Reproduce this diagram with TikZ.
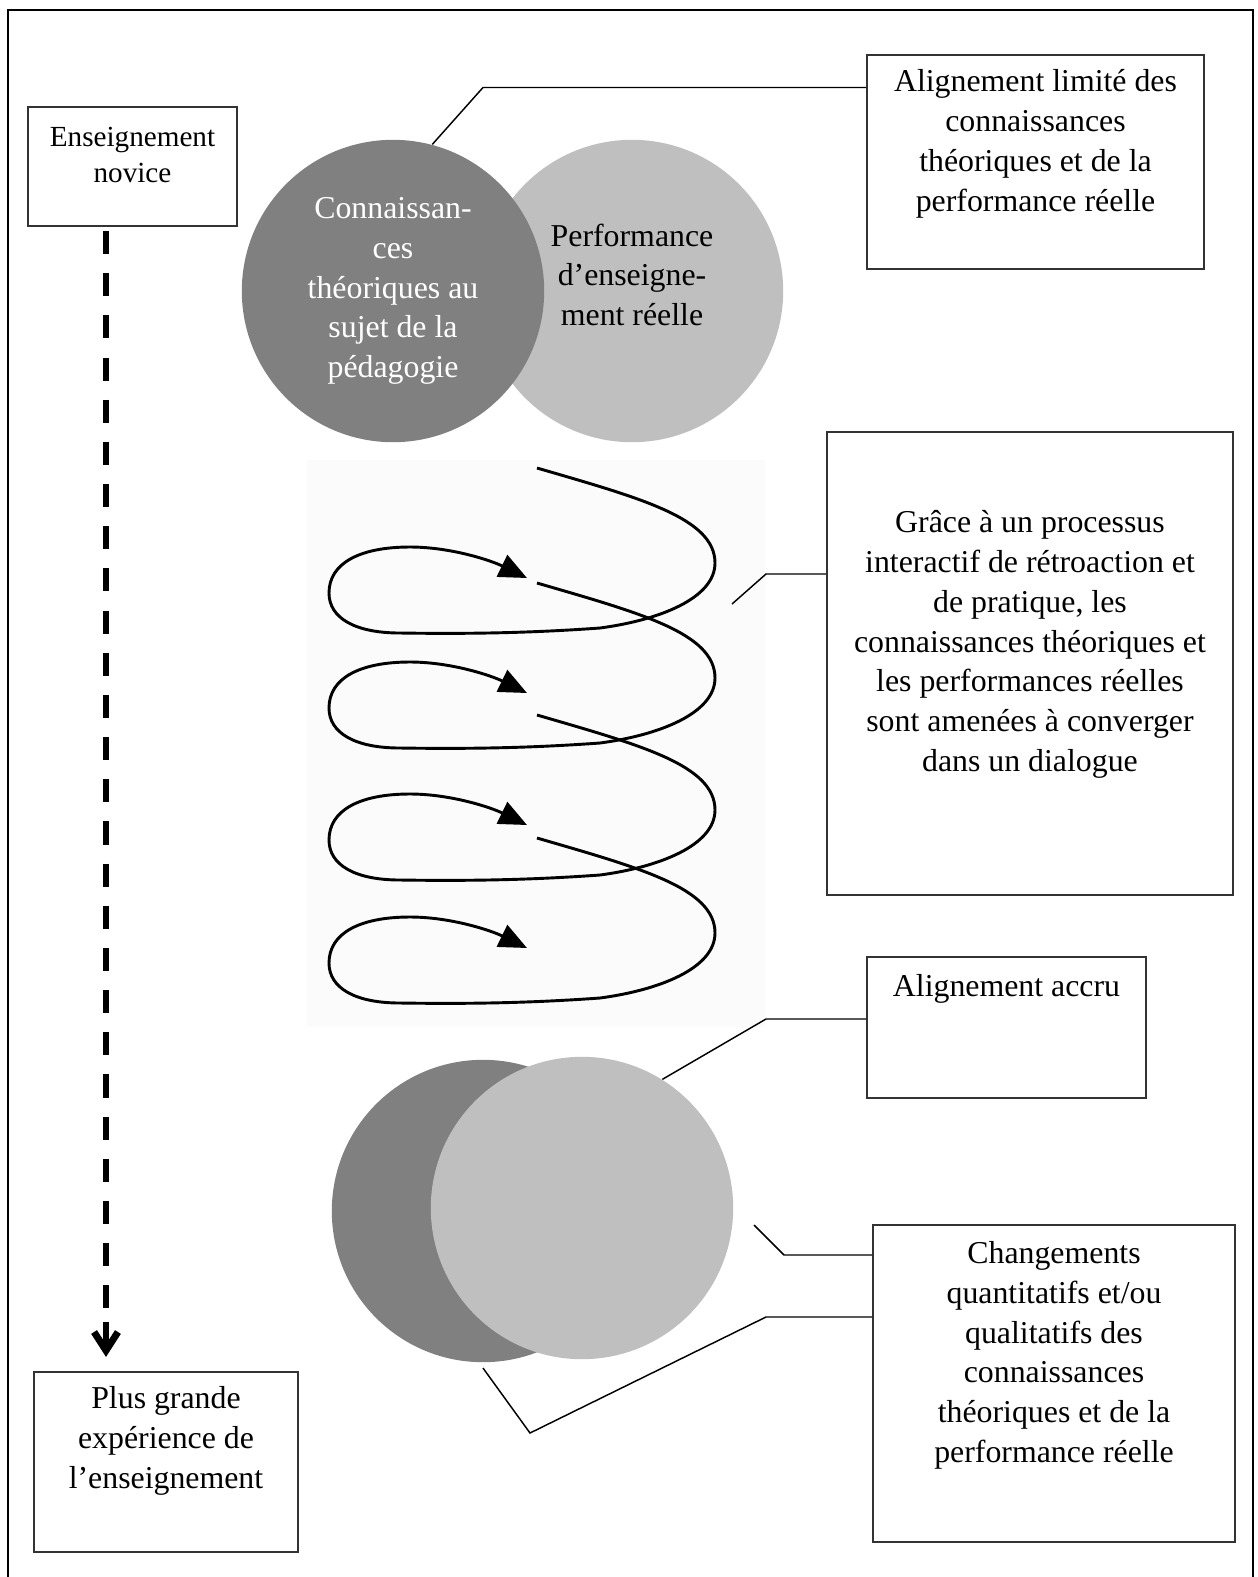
\documentclass[tikz,border=0pt]{standalone}
\usepackage{fontspec}
\setmainfont{Liberation Serif}
\usetikzlibrary{positioning,fit,arrows.meta}
\definecolor{gris1}{HTML}{808080}
\definecolor{gris2}{HTML}{BFBFBF}
\begin{document}
\begin{tikzpicture}[x=0.377pt,y=-0.377pt,
		boite/.style={draw=black!80,line width=0.75pt,inner sep=0pt},
		texte/.style={align=center,inner sep=0pt,font=\fontsize{12}{15}\selectfont},
		disque/.style={circle,inner sep=0pt,minimum size=114pt},
		lien/.style={line width=0.55pt}]
			\useasboundingbox (0,0) rectangle (1258,1577);
			\draw[line width=1.1pt] (8,10) rectangle (1253,1600);
			% cases
			\node[boite,fit={(28,107) (237,226)}] (novice) {};
			\node[boite,fit={(867,55) (1204,269)}] (limite) {};
			\node[boite,fit={(827,432) (1233,895)}] (dialogue) {};
			\node[boite,fit={(867,957) (1146,1098)}] (accru) {};
			\node[boite,fit={(873,1225) (1235,1542)}] (chg) {};
			\node[boite,fit={(34,1372) (298,1552)}] (plus) {};
			\node[texte,font=\fontsize{11}{13.6}\selectfont,below=7.6pt of novice.north] (noviceT) {Enseignement\\novice};
			\node[texte,below=5.7pt of limite.north] (limiteT) {Alignement limité des\\connaissances\\théoriques et de la\\performance réelle};
			\node[texte,below=29.8pt of dialogue.north] (dialogueT) {Grâce à un processus\\interactif de rétroaction et\\de pratique, les\\connaissances théoriques et\\les performances réelles\\sont amenées à converger\\dans un dialogue};
			\node[texte,below=6.8pt of accru.north] (accruT) {Alignement accru};
			\node[texte,below=6.4pt of chg.north] (chgT) {Changements\\quantitatifs et/ou\\qualitatifs des\\connaissances\\théoriques et de la\\performance réelle};
			\node[texte,below=5.7pt of plus.north] (plusT) {Plus grande\\expérience de\\l’enseignement};
			% cercles
			\node[disque,fill=gris2] (perf) at (632,291) {};
			\node[disque,fill=gris1] (conn) at (393,291) {};
			\node[texte,text=white] (connT) at (conn) {Connaissan-\\ces\\théoriques au\\sujet de la\\pédagogie};
			\node[texte] (perfT) at ([yshift=6.1pt]perf.center) {Performance\\d’enseigne-\\ment réelle};
			\node[disque,fill=gris1] (connB) at (483,1211) {};
			\node[disque,fill=gris2] (perfB) at (582,1208) {};
			% spirale
			\fill[black!1.5] (307,460) rectangle (765,1027);
			\foreach \a in {468,583,715,838}
			\draw[line width=1.1pt,-{Triangle[length=10.5pt,width=9pt]}] (537,\a)%
			.. controls (640,\a+30) and (715,\a+50) .. (715,\a+95)%
			.. controls (715,\a+130) and (660,\a+152) .. (600,\a+160)%
			.. controls (530,\a+165) and (470,\a+166) .. (400,\a+165)%
			.. controls (355,\a+165) and (329,\a+150) .. (329,\a+125)%
			.. controls (329,\a+95) and (360,\a+79) .. (410,\a+79)%
			.. controls (450,\a+79) and (490,\a+92) .. (527,\a+110);
			% fleche
			\coordinate (pointe) at (106,1322);
			\draw[line width=2.6pt,dash pattern=on 8.7pt off 7.2pt,shorten <=1.5pt] (novice.south -| pointe) -- (pointe);
			\draw[line width=2.6pt,-{Straight Barb[length=7pt,width=9pt]},shorten >=5.3pt] (pointe) -- (plus.north -| pointe);
			% liens
			\coordinate (spir) at (732,604);
			\coordinate (bord) at (754,1225);
			\draw[lien] (limite.west |- 0,87.5) -- (483,87.5) -- (conn.75);
			\draw[lien] (dialogue.west |- 0,574) -- (766,574) -- (spir);
			\draw[lien] (accru.west |- 0,1019) -- (766,1019) -- (perfB.58);
			\draw[lien] (chg.west |- 0,1255) -- (784,1255) -- (bord);
			\draw[lien] (chg.west |- 0,1317) -- (766,1317) -- (530,1433) -- ([yshift=-2pt]connB.south);
		\end{tikzpicture}
\end{document}
